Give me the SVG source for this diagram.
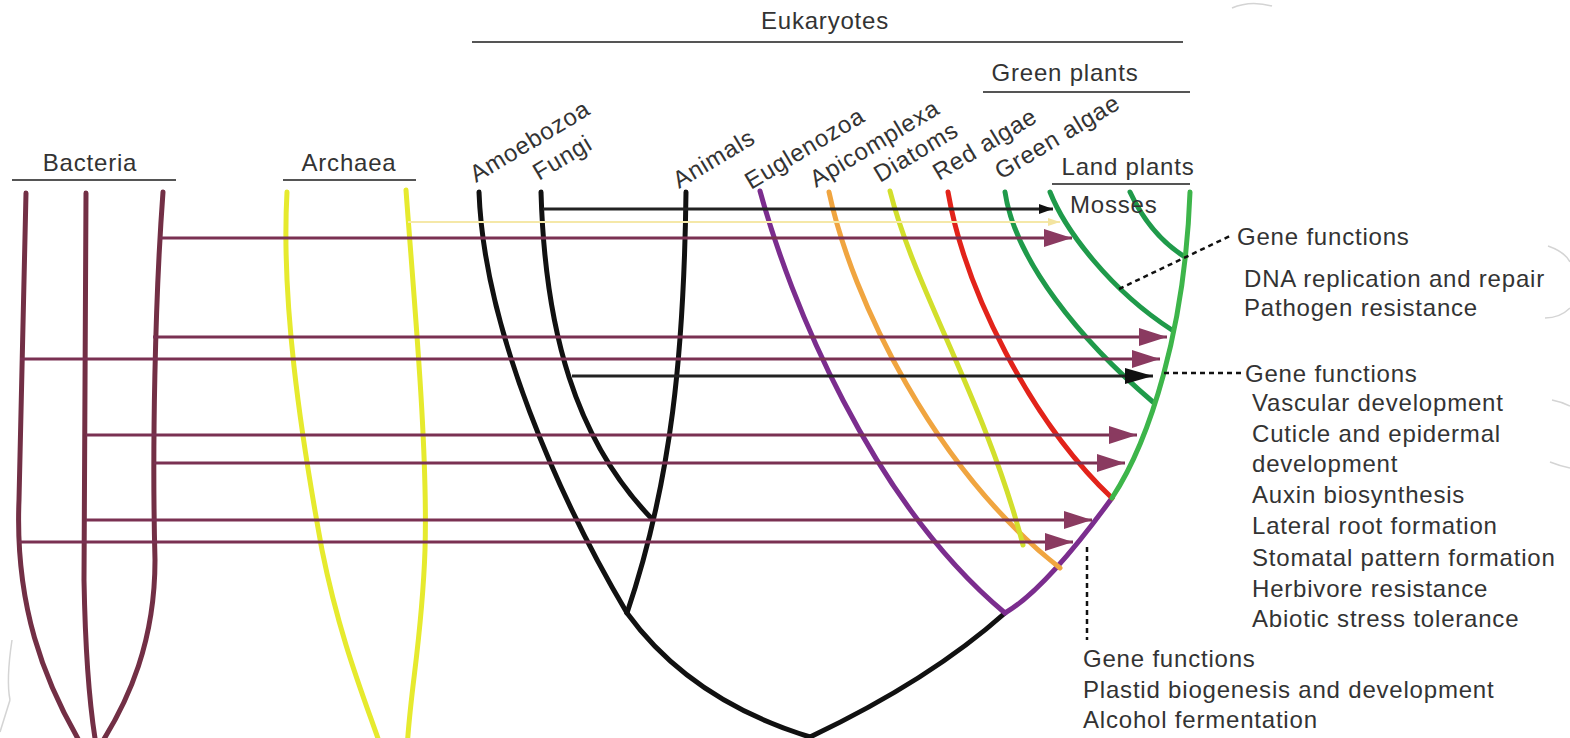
<svg xmlns="http://www.w3.org/2000/svg" width="1570" height="738" viewBox="0 0 1570 738">
<style>
text{font-family:"Liberation Sans",Arial,sans-serif;font-size:24px;fill:#333;letter-spacing:0.8px}
.mid{text-anchor:middle}
.rule{stroke:#555;stroke-width:2;fill:none}
.br{fill:none;stroke-width:5;stroke-linecap:round}
.bac{stroke:#722f45}
.arc{stroke:#e6ea2e}
.blk{stroke:#111}
.pur{stroke:#7b2d8e}
.ora{stroke:#f0a540}
.yg{stroke:#d2df2c}
.red{stroke:#e2231a}
.dg{stroke:#1f9a4a}
.lg{stroke:#3db54a}
.hz{fill:none;stroke:#7a3152;stroke-width:3}
.hzb{fill:none;stroke:#222;stroke-width:3}
.dot{fill:none;stroke:#111;stroke-width:2.5;stroke-dasharray:5 4}
.deco{fill:none;stroke:#d4d4d4;stroke-width:1.5}
</style>
<defs>
<marker id="hm" markerUnits="userSpaceOnUse" markerWidth="28" markerHeight="18" viewBox="0 0 28 18" refX="28" refY="9" orient="auto"><path d="M0,0 L28,9 L0,18 z" fill="#8a3a60"/></marker>
<marker id="hb" markerUnits="userSpaceOnUse" markerWidth="28" markerHeight="16" viewBox="0 0 28 16" refX="28" refY="8" orient="auto"><path d="M0,0 L28,8 L0,16 z" fill="#111"/></marker>
<marker id="hbs" markerUnits="userSpaceOnUse" markerWidth="14" markerHeight="10" viewBox="0 0 14 10" refX="14" refY="5" orient="auto"><path d="M0,0 L14,5 L0,10 z" fill="#111"/></marker>
<marker id="hy" markerUnits="userSpaceOnUse" markerWidth="12" markerHeight="8" viewBox="0 0 12 8" refX="12" refY="4" orient="auto"><path d="M0,0 L12,4 L0,8 z" fill="#f3e4a0"/></marker>
</defs>

<g id="decor">
<path class="deco" d="M1232,8 Q1250,0 1272,6"/>
<path class="deco" d="M1548,246 Q1565,252 1570,262"/>
<path class="deco" d="M1570,308 Q1560,318 1545,318"/>
<path class="deco" d="M1552,400 Q1562,402 1570,406"/>
<path class="deco" d="M1550,462 Q1560,466 1570,468"/>
<path class="deco" d="M12,640 Q6,680 10,700"/>
<path class="deco" d="M10,700 L0,732"/>
</g>

<g id="headers">
<text class="mid" x="825" y="29">Eukaryotes</text>
<line class="rule" x1="472" y1="42" x2="1183" y2="42"/>
<text class="mid" x="1065" y="81">Green plants</text>
<line class="rule" x1="983" y1="92" x2="1190" y2="92"/>
<text class="mid" x="1128" y="175">Land plants</text>
<line class="rule" x1="1052" y1="184" x2="1190" y2="184"/>
<text class="mid" x="90" y="171">Bacteria</text>
<line class="rule" x1="12" y1="180" x2="176" y2="180"/>
<text class="mid" x="349" y="171">Archaea</text>
<line class="rule" x1="283" y1="180" x2="416" y2="180"/>
</g>

<g id="bacteria">
<path class="br bac" d="M26,193 L19,500 C15,600 40,680 92,762"/>
<path class="br bac" d="M86,193 L84,580 Q86,690 97,750"/>
<path class="br bac" d="M163,192 C155,300 152,450 155,560 C155,640 130,700 97,750"/>
</g>

<g id="archaea">
<path class="br arc" d="M287,192 C281,300 300,430 322,550 C340,640 365,700 382,750"/>
<path class="br arc" d="M406,190 C414,300 428,450 425,550 C422,640 410,690 407,750"/>
</g>

<g id="amoebozoa-fungi-animals">
<path class="br blk" d="M479,192 C484,330 560,500 627,613"/>
<path class="br blk" d="M541,192 C545,330 575,440 653,520"/>
<path class="br blk" d="M686,192 C684,350 672,480 627,613"/>
<path class="br blk" d="M627,613 Q690,700 810,737 Q930,680 1005,613"/>
<text transform="translate(476,183) rotate(-31)">Amoebozoa</text>
<text transform="translate(539,181) rotate(-31)">Fungi</text>
<text transform="translate(679,189) rotate(-31)">Animals</text>
</g>

<g id="euglenozoa">
<path class="br pur" d="M760,191 C790,300 870,500 1005,613"/>
<path class="br pur" d="M1005,613 Q1045,590 1112,498"/>
<text transform="translate(751,190) rotate(-31)">Euglenozoa</text>
</g>

<g id="apicomplexa">
<path class="br ora" d="M829,192 C852,300 935,470 1060,568"/>
<text transform="translate(816,188) rotate(-31)">Apicomplexa</text>
</g>

<g id="diatoms">
<path class="br yg" d="M890,191 C915,290 985,400 1023,545"/>
<text transform="translate(880,183) rotate(-31)">Diatoms</text>
</g>

<g id="red-algae">
<path class="br red" d="M948,192 C965,290 1030,420 1112,498"/>
<text transform="translate(939,181) rotate(-31)">Red algae</text>
</g>

<g id="green-plants">
<path class="br dg" d="M1005,192 C1015,260 1080,340 1153,402"/>
<path class="br dg" d="M1050,192 C1065,230 1110,290 1172,330"/>
<path class="br dg" d="M1130,192 Q1150,235 1185,257"/>
<path class="br lg" d="M1112,498 C1150,440 1185,330 1190,192"/>
<text transform="translate(1001,180) rotate(-31)">Green algae</text>
<text x="1070" y="213">Mosses</text>
</g>

<g id="connectors">
<line x1="408" y1="222" x2="1060" y2="222" stroke="#f5e8a8" stroke-width="2" marker-end="url(#hy)"/>
<line class="hzb" x1="543" y1="209" x2="1053" y2="209" stroke-width="2.5" marker-end="url(#hbs)"/>
<line class="hz" x1="160" y1="238" x2="1072" y2="238" marker-end="url(#hm)"/>
<line class="hz" x1="153" y1="337" x2="1167" y2="337" marker-end="url(#hm)"/>
<line class="hz" x1="20" y1="359" x2="1160" y2="359" marker-end="url(#hm)"/>
<line class="hzb" x1="572" y1="376" x2="1153" y2="376" marker-end="url(#hb)"/>
<line class="hz" x1="86" y1="435" x2="1137" y2="435" marker-end="url(#hm)"/>
<line class="hz" x1="154" y1="463" x2="1125" y2="463" marker-end="url(#hm)"/>
<line class="hz" x1="86" y1="520" x2="1092" y2="520" marker-end="url(#hm)"/>
<line class="hz" x1="19" y1="542" x2="1073" y2="542" marker-end="url(#hm)"/>
<path class="dot" d="M1119,289 L1230,236"/>
<path class="dot" d="M1164,373 L1242,373"/>
<path class="dot" d="M1087,547 L1087,640"/>
</g>

<g id="gene-functions-1">
<text x="1237" y="245">Gene functions</text>
<text x="1244" y="287">DNA replication and repair</text>
<text x="1244" y="316">Pathogen resistance</text>
</g>

<g id="gene-functions-2">
<text x="1245" y="382">Gene functions</text>
<text x="1252" y="411">Vascular development</text>
<text x="1252" y="442">Cuticle and epidermal</text>
<text x="1252" y="472">development</text>
<text x="1252" y="503">Auxin biosynthesis</text>
<text x="1252" y="534">Lateral root formation</text>
<text x="1252" y="566">Stomatal pattern formation</text>
<text x="1252" y="597">Herbivore resistance</text>
<text x="1252" y="627">Abiotic stress tolerance</text>
</g>

<g id="gene-functions-3">
<text x="1083" y="667">Gene functions</text>
<text x="1083" y="698">Plastid biogenesis and development</text>
<text x="1083" y="728">Alcohol fermentation</text>
</g>
</svg>
